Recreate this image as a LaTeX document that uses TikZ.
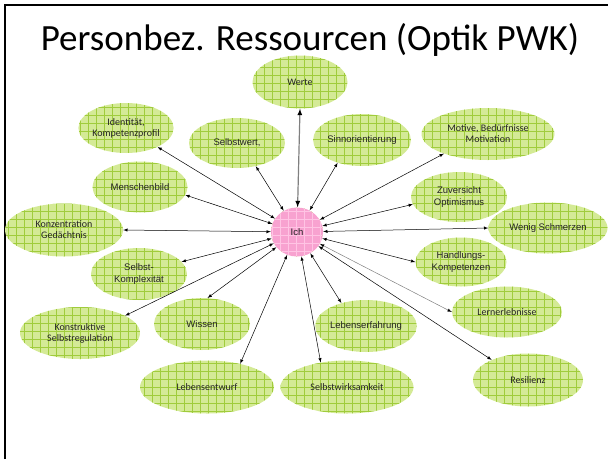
\documentclass[tikz,border=0pt]{standalone}
\usepackage{fontspec}
\setmainfont{Carlito}
\newfontfamily\arialfont{Liberation Sans}
\usepackage{tikz}
\usetikzlibrary{shapes}
\usetikzlibrary{arrows}
\usetikzlibrary{patterns.meta}

\definecolor{leaf}{RGB}{212,234,150}
\definecolor{leafgrid}{RGB}{160,204,60}
\definecolor{rose}{RGB}{248,162,208}
\definecolor{rosegrid}{RGB}{255,196,228}
\definecolor{ink}{RGB}{35,35,35}

\begin{document}
\begin{tikzpicture}[x=1pt, y=-1pt]
    \def\gridstep{8pt}
    \tikzstyle{blob}=[ellipse, fill=leaf, postaction={pattern color=leafgrid, pattern={Hatch[distance=\gridstep, line width=0.5pt]}}, inner sep=0pt, align=center, text=ink, font=\fontsize{10}{11}\selectfont]
    \tikzstyle{arial}=[font=\arialfont\fontsize{9.5}{11.5}\selectfont]
    \tikzstyle{arrow}=[<->, >=latex, line width=0.5pt]

    \useasboundingbox (0,0) rectangle (608,459);

    % frame and title
    \draw[line width=2pt] (4.5,459) -- (4.5,5) -- (608,5);
    \path (310,50) node (title) [anchor=base, font=\fontsize{37}{40}\selectfont] {Personbez. Ressourcen (Optik PWK)};

    % nodes
    \path (297,232) node (ich) [blob, arial, fill=rose, postaction={pattern color=rosegrid, pattern={Hatch[distance=\gridstep, line width=0.5pt]}}, minimum width=52, minimum height=49] {Ich};

    \path (300,82) node (werte) [blob, minimum width=95, minimum height=53] {Werte};
    \path (126,128) node (identitaet) [blob, minimum width=95, minimum height=50] {Identität,\\Kompetenzprofil};
    \path (237,143) node (selbstwert) [blob, arial, minimum width=96, minimum height=50] {Selbstwert,};
    \path (362,140) node (sinn) [blob, arial, minimum width=97, minimum height=52] {Sinnorientierung};
    \path (488,134) node (motive) [blob, minimum width=133, minimum height=52] {Motive, Bedürfnisse\\Motivation};
    \path (140,187) node (menschenbild) [blob, arial, minimum width=95, minimum height=51] {Menschenbild};
    \path (64,230) node (konzentration) [blob, minimum width=118, minimum height=53] {Konzentration\\Gedächtnis};
    \path (459,197) node (zuversicht) [blob, arial, minimum width=96, minimum height=50] {Zuversicht\\Optimismus};
    \path (548,228) node (schmerzen) [blob, arial, minimum width=119, minimum height=51] {Wenig Schmerzen};
    \path (139,274) node (komplex) [blob, arial, minimum width=96, minimum height=52] {Selbst-\\Komplexität};
    \path (461,262) node (handlung) [blob, arial, minimum width=91, minimum height=49] {Handlungs-\\Kompetenzen};
    \path (202,324) node (wissen) [blob, arial, minimum width=96, minimum height=52] {Wissen};
    \path (80,333) node (konstruktiv) [blob, minimum width=120, minimum height=52] {Konstruktive\\Selbstregulation};
    \path (366,326) node (erfahrung) [blob, arial, minimum width=97, minimum height=52] {Lebenserfahrung};
    \path (507,312) node (lern) [blob, minimum width=110, minimum height=51] {Lernerlebnisse};
    \path (207,387) node (entwurf) [blob, minimum width=134, minimum height=53] {Lebensentwurf};
    \path (347,387) node (wirksam) [blob, minimum width=133, minimum height=53] {Selbstwirksamkeit};
    \path (528,380) node (resilienz) [blob, minimum width=110, minimum height=53] {Resilienz};

    % arrows
    \path[arrow, draw=gray, line width=1.2pt] (ich) edge (werte.south);
    \path[arrow] (ich) edge (identitaet.-31);
    \path[arrow] (ich) edge (selbstwert.-51);
    \path[arrow] (ich) edge (sinn.-137);
    \path[arrow] (ich) edge (motive.-156);
    \path[arrow] (ich) edge (menschenbild.-10);
    \path[arrow] (ich) edge (konzentration.east);
    \path[arrow] (ich) edge (zuversicht.-171);
    \path[arrow] (ich) edge (schmerzen.west);
    \path[arrow] (ich) edge (komplex.16);
    \path[arrow] (ich) edge (handlung.west);
    \path[arrow] (ich) edge (wissen.78);
    \path[arrow] (ich) edge (konstruktiv.21);
    \path[arrow] (ich) edge (erfahrung.137);
    \path[arrow, draw=gray] (ich) edge (lern.west);
    \path[arrow] (ich) edge (entwurf.35);
    \path[arrow] (ich) edge (wirksam.137);
    \path[arrow] (ich) edge (resilienz.151);
\end{tikzpicture}
\end{document}
